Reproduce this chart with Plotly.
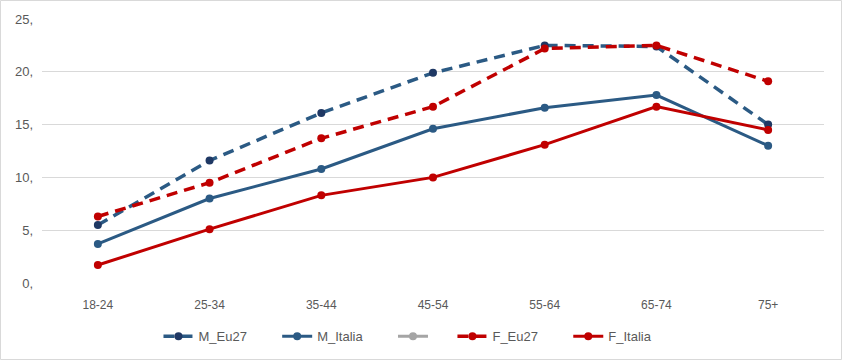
import plotly.graph_objects as go

categories = ["18-24", "25-34", "35-44", "45-54", "55-64", "65-74", "75+"]
m_eu27 = [5.5, 11.6, 16.1, 19.9, 22.5, 22.4, 15.0]
m_italia = [3.7, 8.0, 10.8, 14.6, 16.6, 17.8, 13.0]
blank_series = [None, None, None, None, None, None, None]
f_eu27 = [6.3, 9.5, 13.7, 16.7, 22.2, 22.5, 19.1]
f_italia = [1.7, 5.1, 8.3, 10.0, 13.1, 16.7, 14.5]
y_ticks = [0, 5, 10, 15, 20, 25]
y_tick_labels = ["0,", "5,", "10,", "15,", "20,", "25,"]

BLUE = "#2B5A84"
NAVY = "#1F3864"
RED = "#C00000"
GRAY = "#A5A5A5"
PAD = "\u00a0" * 7

fig = go.Figure()
fig.add_trace(go.Scatter(x=categories, y=m_eu27, name="M_Eu27" + PAD, mode="lines+markers",
                         line=dict(color=BLUE, width=3.5, dash="11px,7px"),
                         marker=dict(color=NAVY, size=8)))
fig.add_trace(go.Scatter(x=categories, y=m_italia, name="M_Italia" + PAD, mode="lines+markers",
                         line=dict(color=BLUE, width=3),
                         marker=dict(color=BLUE, size=8)))
fig.add_trace(go.Scatter(x=categories, y=blank_series, name="\u00a0" * 4, mode="lines+markers",
                         line=dict(color=GRAY, width=3),
                         marker=dict(color=GRAY, size=8)))
fig.add_trace(go.Scatter(x=categories, y=f_eu27, name="F_Eu27" + PAD, mode="lines+markers",
                         line=dict(color=RED, width=3.5, dash="11px,7px"),
                         marker=dict(color=RED, size=8)))
fig.add_trace(go.Scatter(x=categories, y=f_italia, name="F_Italia", mode="lines+markers",
                         line=dict(color=RED, width=3),
                         marker=dict(color=RED, size=8)))

W, H = 843, 361
ml, mr, mt, mb = 42, 19, 19, 78
pw = W - ml - mr
ph = H - mt - mb

fig.update_layout(
    width=W, height=H,
    margin=dict(l=ml, r=mr, t=mt, b=mb, autoexpand=False),
    paper_bgcolor="white", plot_bgcolor="white",
    font=dict(family="Liberation Sans, Arial, sans-serif", size=12, color="#595959"),
    showlegend=True,
    legend=dict(orientation="h", x=0.468, xanchor="center", y=-0.145, yanchor="top",
                font=dict(size=13, color="#595959"), itemwidth=30, traceorder="normal"),
    xaxis=dict(type="category", range=[-0.5, 6.5], showgrid=False, showline=False,
               zeroline=False, ticks="", ticklabelstandoff=13,
               tickfont=dict(size=12, color="#595959"), fixedrange=True),
    yaxis=dict(range=[0, 25], tickvals=y_ticks, ticktext=y_tick_labels,
               showgrid=True, gridcolor="#D9D9D9", gridwidth=1, zeroline=False,
               showline=False, ticks="", ticklabelstandoff=8,
               tickfont=dict(size=13, color="#595959"), fixedrange=True),
    shapes=[dict(type="rect", xref="paper", yref="paper",
                 x0=-(ml - 0.5) / pw, x1=1 + (mr - 1.5) / pw,
                 y0=-(mb - 1.5) / ph, y1=1 + (mt - 0.5) / ph,
                 line=dict(color="#D9D9D9", width=1), fillcolor="rgba(0,0,0,0)",
                 layer="below")],
)

fig.write_html("out.html", config={"displayModeBar": False},
               post_script="document.body.style.margin='0';document.body.style.overflow='hidden';")
